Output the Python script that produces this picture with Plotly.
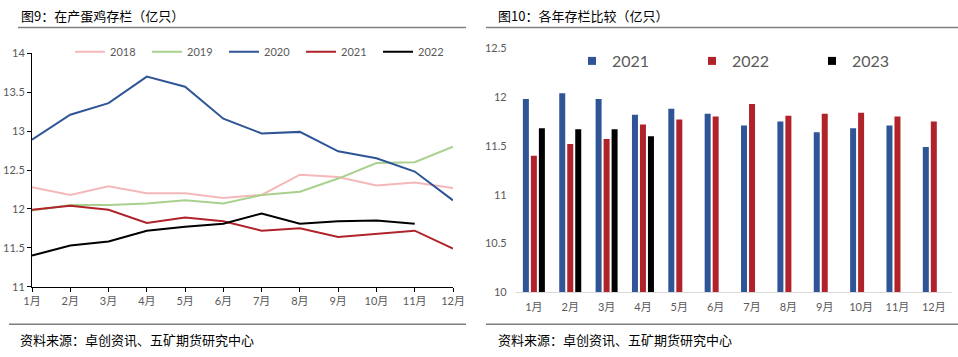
import plotly.graph_objects as go

W, H = 958, 357

months = ["1月", "2月", "3月", "4月", "5月", "6月", "7月", "8月", "9月", "10月", "11月", "12月"]
month_num = [1, 2, 3, 4, 5, 6, 7, 8, 9, 10, 11, 12]

# Left chart: 在产蛋鸡存栏 (亿只)
y2018 = [12.28, 12.18, 12.29, 12.20, 12.20, 12.14, 12.18, 12.44, 12.41, 12.30, 12.34, 12.27]
y2019 = [11.98, 12.05, 12.05, 12.07, 12.11, 12.07, 12.18, 12.22, 12.39, 12.59, 12.60, 12.80]
y2020 = [12.89, 13.21, 13.36, 13.70, 13.57, 13.16, 12.97, 12.99, 12.74, 12.65, 12.48, 12.11]
y2021 = [11.99, 12.04, 11.99, 11.82, 11.89, 11.84, 11.72, 11.75, 11.64, 11.68, 11.72, 11.49]
y2022 = [11.40, 11.53, 11.58, 11.72, 11.77, 11.81, 11.94, 11.81, 11.84, 11.85, 11.81]

# Right chart: 各年存栏比较 (亿只)
b2021 = [11.98, 12.04, 11.98, 11.82, 11.88, 11.83, 11.71, 11.75, 11.64, 11.68, 11.71, 11.49]
b2022 = [11.40, 11.52, 11.57, 11.72, 11.77, 11.80, 11.93, 11.81, 11.83, 11.84, 11.80, 11.75]
b2023 = [11.68, 11.67, 11.67, 11.60]

left_ticks = [11, 11.5, 12, 12.5, 13, 13.5, 14]
right_ticks = [10, 10.5, 11, 11.5, 12, 12.5]

FONT = "Lato, 'Noto Sans CJK SC', sans-serif"
CJK = "'Noto Sans CJK SC', sans-serif"
GRAY = "#595959"

def px(x):
    return x / W

def py(y):
    return (H - y) / H

fig = go.Figure()

line_series = [
    ("2018", y2018, "#F4B8BA"),
    ("2019", y2019, "#A9D18E"),
    ("2020", y2020, "#2F5597"),
    ("2021", y2021, "#B0232A"),
    ("2022", y2022, "#000000"),
]
for name, vals, col in line_series:
    fig.add_trace(go.Scatter(
        x=month_num[:len(vals)], y=vals, mode="lines", name=name,
        line=dict(color=col, width=2), xaxis="x", yaxis="y", legend="legend",
    ))

bar_series = [
    ("2021", b2021, "#2F5597"),
    ("2022", b2022, "#B0232A"),
    ("2023", b2023, "#000000"),
]
for name, vals, col in bar_series:
    fig.add_trace(go.Bar(
        x=months[:len(vals)], y=vals, name=name, marker=dict(color=col, line=dict(width=0)),
        xaxis="x2", yaxis="y2", showlegend=False,
    ))
# legend keys for the bar chart (small squares)
for name, vals, col in bar_series:
    fig.add_trace(go.Scatter(
        x=[None], y=[None], mode="markers", name=name,
        marker=dict(symbol="square", size=8, color=col),
        xaxis="x2", yaxis="y2", legend="legend2",
    ))

fig.update_layout(
    width=W, height=H,
    margin=dict(l=0, r=0, t=0, b=0, autoexpand=False),
    paper_bgcolor="white", plot_bgcolor="white",
    font=dict(family=FONT, color=GRAY, size=11),
    barmode="group", bargap=0.34, bargroupgap=0.25,
    xaxis=dict(
        domain=[px(32), px(453)], range=[1, 12], tickvals=month_num, ticktext=months,
        showgrid=False, zeroline=False, showline=True, linecolor="#000000", linewidth=1,
        ticks="outside", ticklen=4, tickcolor="#000000", automargin=False,
        tickfont=dict(family=FONT, size=11, color=GRAY), anchor="y",
    ),
    yaxis=dict(
        domain=[py(286.7), py(53.3)], range=[11, 14], tickvals=left_ticks,
        ticktext=[f"{v:g}" for v in left_ticks],
        showgrid=False, zeroline=False, showline=True, linecolor="#000000", linewidth=1,
        ticks="outside", ticklen=4, tickcolor="#000000", automargin=False,
        tickfont=dict(family=FONT, size=11, color=GRAY), anchor="x",
    ),
    xaxis2=dict(
        domain=[px(515.7), px(952)], range=[-0.5, 11.5], type="category",
        categoryorder="array", categoryarray=months,
        showgrid=False, zeroline=False, showline=True, linecolor="#D9D9D9", linewidth=1,
        ticks="", ticklabelstandoff=4, automargin=False,
        tickfont=dict(family=FONT, size=11, color=GRAY), anchor="y2",
    ),
    yaxis2=dict(
        domain=[py(292.3), py(48.3)], range=[10, 12.5], tickvals=right_ticks,
        ticktext=[f"{v:g}" for v in right_ticks],
        showgrid=False, zeroline=False, showline=False, ticks="",
        ticklabelstandoff=8, automargin=False,
        tickfont=dict(family=FONT, size=11, color=GRAY), anchor="x2",
    ),
    legend=dict(
        orientation="h", x=px(70), y=py(51.7), xanchor="left", yanchor="middle",
        bgcolor="rgba(0,0,0,0)", font=dict(family=FONT, size=11, color=GRAY),
        entrywidth=32, entrywidthmode="pixels", itemwidth=30, traceorder="normal",
    ),
    legend2=dict(
        orientation="h", x=px(572), y=py(61), xanchor="left", yanchor="middle",
        bgcolor="rgba(0,0,0,0)", font=dict(family=FONT, size=16, color=GRAY),
        entrywidth=75, entrywidthmode="pixels", itemwidth=30, traceorder="normal",
    ),
    showlegend=True,
)

# separator lines
for x0, x1 in [(18, 466), (486, 958)]:
    fig.add_shape(type="line", xref="paper", yref="paper", x0=px(x0), x1=px(x1),
                  y0=py(27.5), y1=py(27.5), line=dict(color="#7F7F7F", width=1.5))
for x0, x1 in [(9, 466), (486, 958)]:
    fig.add_shape(type="line", xref="paper", yref="paper", x0=px(x0), x1=px(x1),
                  y0=py(324.3), y1=py(324.3), line=dict(color="#7F7F7F", width=1.5))

titles = [(19, "图9：在产蛋鸡存栏（亿只）"), (496, "图10：各年存栏比较（亿只）")]
for x, t in titles:
    fig.add_annotation(text=t, xref="paper", yref="paper", x=px(x), y=py(16),
                       xanchor="left", yanchor="middle", showarrow=False,
                       font=dict(family=CJK, size=13, color="#000000"))
for x in [18, 496]:
    fig.add_annotation(text="资料来源：卓创资讯、五矿期货研究中心", xref="paper", yref="paper",
                       x=px(x), y=py(339), xanchor="left", yanchor="middle", showarrow=False,
                       font=dict(family=CJK, size=13, color="#000000"))

fig.write_html(
    "out.html",
    config={"displayModeBar": False, "staticPlot": True},
    post_script="document.body.style.margin='0';document.body.style.overflow='hidden';",
)
